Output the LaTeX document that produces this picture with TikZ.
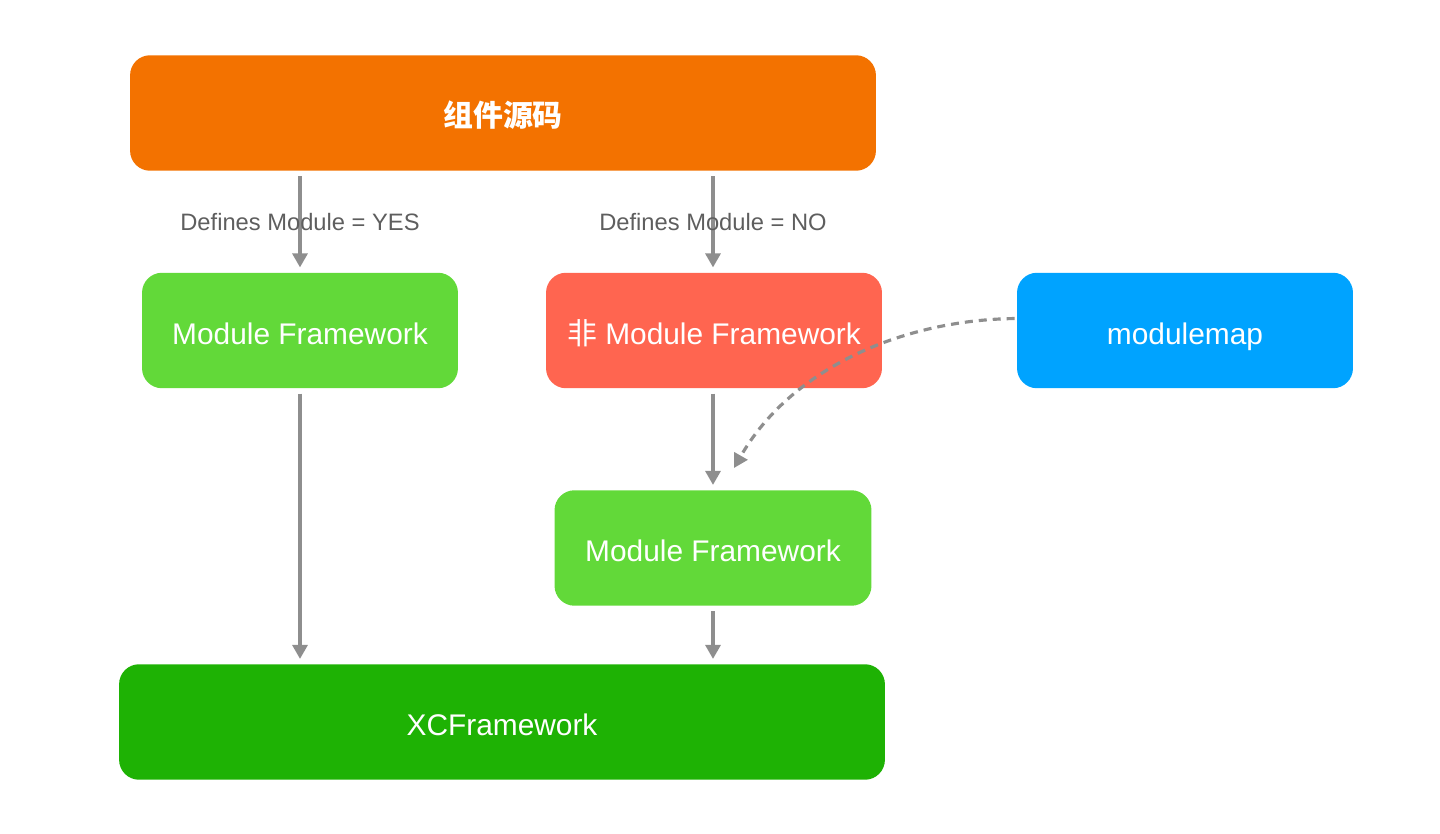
\documentclass[tikz,border=0pt]{standalone}
\usepackage{fontspec}
\setmainfont{Liberation Sans}
\newfontfamily\cjk{Noto Sans CJK SC}
\usetikzlibrary{positioning,arrows.meta}
\definecolor{cOrange}{HTML}{F37200}
\definecolor{cGreen}{HTML}{62D939}
\definecolor{cRed}{HTML}{FF6550}
\definecolor{cBlue}{HTML}{00A3FF}
\definecolor{cDark}{HTML}{1EB204}
\definecolor{cLine}{HTML}{8E8E8E}
\definecolor{cText}{HTML}{5E5E5E}
\tikzset{box/.style={rectangle, rounded corners=0.4cm, text=white, minimum height=2.31cm,
    text height=0.55cm, text depth=0cm, font=\fontsize{17}{20}\selectfont},
  arr/.style={draw=cLine, line width=1.8pt, -{Triangle[width=0.3cm,length=0.28cm]},
    shorten <=0.1cm, shorten >=0.1cm},
  lbl/.style={text=cText, font=\fontsize{13.5}{16}\selectfont}}

\begin{document}
\begin{tikzpicture}[x=0.02cm,y=-0.02cm]
				\useasboundingbox (0,0) rectangle (1440,834);
				\node[box, fill=cOrange, minimum width=14.92cm] (src) at (503,113) {\cjk\bfseries 组件源码};
				\node[box, fill=cGreen, minimum width=6.32cm] (modY) at (300,330.5) {Module Framework};
				\node[box, fill=cRed, minimum width=6.72cm] (modN) at (714,330.5) {{\cjk 非} Module Framework};
				\node[box, fill=cBlue, minimum width=6.72cm] (mmap) at (1185,330.5) {modulemap};
				\node[box, fill=cGreen, minimum width=6.34cm] (modM) at (713,548) {Module Framework};
				\node[box, fill=cDark, minimum width=15.32cm] (xcf) at (502,722) {XCFramework};
				\coordinate (dEnd) at (734,468);

				\path[arr]
					(src.south -| modY.north) -- node[lbl] {Defines Module = YES} (modY.north);
				\path[arr]
					(src.south -| 713,0) -- node[lbl] {Defines Module = NO} (modN.north -| 713,0);
				\path[arr] (modY.south) -- (xcf.north -| modY.south);
				\path[arr] (modN.south -| 713,0) -- (modM.north -| 713,0);
				\path[arr] (modM.south -| 713,0) -- (xcf.north -| 713,0);
				\path[arr, dash pattern=on 0.16cm off 0.12cm, shorten <=0.04cm, shorten >=0cm]
					([yshift=0.24cm]mmap.west) .. controls (900,320) and (790,370) .. (dEnd);
			\end{tikzpicture}
\end{document}
